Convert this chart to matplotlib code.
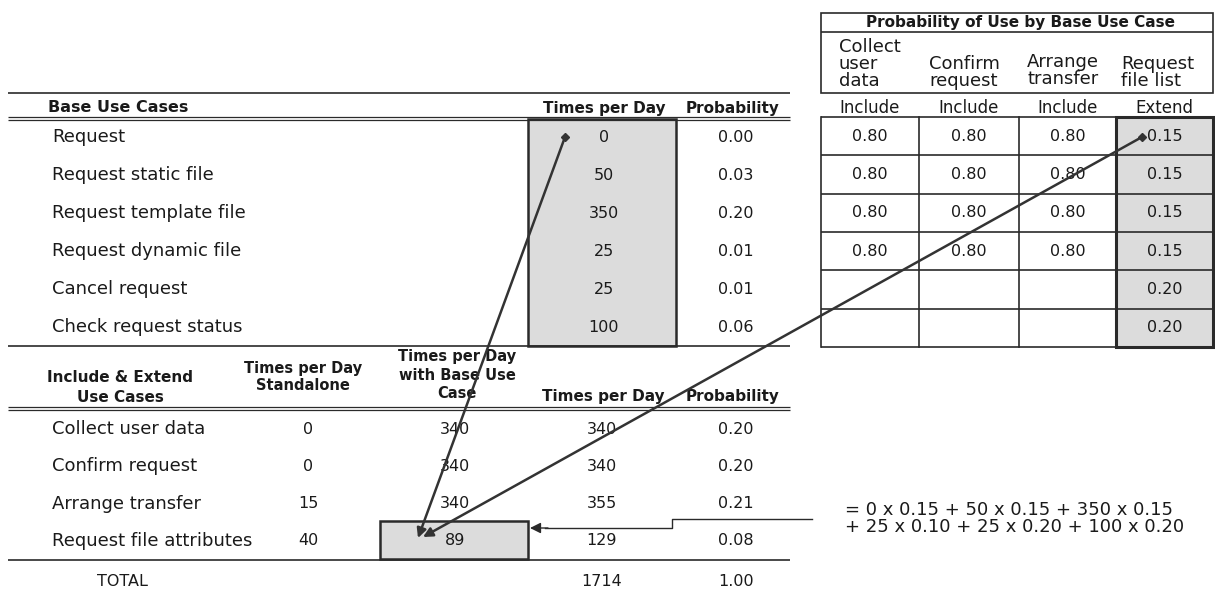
import matplotlib
matplotlib.use("Agg")
import matplotlib.pyplot as plt
from matplotlib.patches import Rectangle

# base use cases
base_cases = ["Request", "Request static file", "Request template file",
              "Request dynamic file", "Cancel request", "Check request status"]
base_times = [0, 50, 350, 25, 25, 100]
base_prob = [0.00, 0.03, 0.20, 0.01, 0.01, 0.06]

# probability of use by base use case
sub_cases = ["Collect\nuser\ndata", "Confirm\nrequest", "Arrange\ntransfer", "Request\nfile list"]
sub_kinds = ["Include", "Include", "Include", "Extend"]
use_prob = [[0.80, 0.80, 0.80, 0.15],
            [0.80, 0.80, 0.80, 0.15],
            [0.80, 0.80, 0.80, 0.15],
            [0.80, 0.80, 0.80, 0.15],
            [None, None, None, 0.20],
            [None, None, None, 0.20]]

# include & extend use cases
ext_cases = ["Collect user data", "Confirm request", "Arrange transfer", "Request file attributes"]
ext_standalone = [0, 0, 15, 40]
ext_with_base = [340, 340, 340, 89]
ext_times = [340, 340, 355, 129]
ext_prob = [0.20, 0.20, 0.21, 0.08]
total_times = 1714
total_prob = 1.00

formula = ["= 0 x 0.15 + 50 x 0.15 + 350 x 0.15",
           "+ 25 x 0.10 + 25 x 0.20 + 100 x 0.20"]

plt.rcParams['font.family'] = ['DejaVu Sans']
LC = '#2a2a2a'
TC = '#1a1a1a'
GRAY = '#dcdcdc'
FS_LBL = 13
FS_NUM = 11.5
FS_HDR = 11

fig = plt.figure(figsize=(12.15, 6.01), dpi=100)
ax = fig.add_axes([0, 0, 1, 1])
ax.set_xlim(0, 1215)
ax.set_ylim(601, 0)
ax.axis('off')


def hline(y, x0=8, x1=790, lw=1.2):
    ax.plot([x0, x1], [y, y], color=LC, lw=lw, solid_capstyle='butt')


def dline(y, x0=8, x1=790):
    hline(y - 1.5, x0, x1, lw=0.9)
    hline(y + 1.5, x0, x1, lw=0.9)


# ---- base use case table ----
hline(93)
ax.text(48, 108, "Base Use Cases", fontsize=FS_HDR + 0.5, fontweight='bold', va='center', color=TC)
ax.text(604, 108, "Times per Day", fontsize=FS_HDR, fontweight='bold', va='center', ha='center', color=TC)
ax.text(733, 108, "Probability", fontsize=FS_HDR, fontweight='bold', va='center', ha='center', color=TC)
dline(118)
ax.add_patch(Rectangle((528, 119), 148, 227, fc=GRAY, ec=LC, lw=1.8, zorder=0))

row_y = [137 + 38 * i for i in range(len(base_cases))]
for y, name, t, p in zip(row_y, base_cases, base_times, base_prob):
    ax.text(52, y, name, fontsize=FS_LBL, va='center', color=TC)
    ax.text(604, y, f"{t}", fontsize=FS_NUM, va='center', ha='center', color=TC)
    ax.text(736, y, f"{p:.2f}", fontsize=FS_NUM, va='center', ha='center', color=TC)
hline(346)

# ---- include & extend table ----
ax.text(120, 377, "Include & Extend", fontsize=FS_HDR, fontweight='bold', va='center', ha='center', color=TC)
ax.text(120, 397, "Use Cases", fontsize=FS_HDR, fontweight='bold', va='center', ha='center', color=TC)
ax.text(303, 368, "Times per Day", fontsize=FS_HDR - 0.5, fontweight='bold', va='center', ha='center', color=TC)
ax.text(303, 385, "Standalone", fontsize=FS_HDR - 0.5, fontweight='bold', va='center', ha='center', color=TC)
for y, s in zip([357, 375, 394], ["Times per Day", "with Base Use", "Case"]):
    ax.text(457, y, s, fontsize=FS_HDR - 0.5, fontweight='bold', va='center', ha='center', color=TC)
ax.text(603, 396, "Times per Day", fontsize=FS_HDR, fontweight='bold', va='center', ha='center', color=TC)
ax.text(733, 396, "Probability", fontsize=FS_HDR, fontweight='bold', va='center', ha='center', color=TC)
dline(408)

ax.add_patch(Rectangle((380, 521), 148, 38, fc=GRAY, ec=LC, lw=1.8, zorder=0))
ext_y = [429 + 37.3 * i for i in range(len(ext_cases))]
for y, name, s, w, t, p in zip(ext_y, ext_cases, ext_standalone, ext_with_base, ext_times, ext_prob):
    ax.text(52, y, name, fontsize=FS_LBL, va='center', color=TC)
    ax.text(308, y, f"{s}", fontsize=FS_NUM, va='center', ha='center', color=TC)
    ax.text(455, y, f"{w}", fontsize=FS_NUM, va='center', ha='center', color=TC)
    ax.text(602, y, f"{t}", fontsize=FS_NUM, va='center', ha='center', color=TC)
    ax.text(736, y, f"{p:.2f}", fontsize=FS_NUM, va='center', ha='center', color=TC)
hline(560)
ax.text(122, 582, "TOTAL", fontsize=FS_NUM, va='center', ha='center', color=TC)
ax.text(602, 582, f"{total_times}", fontsize=FS_NUM, va='center', ha='center', color=TC)
ax.text(736, 582, f"{total_prob:.2f}", fontsize=FS_NUM, va='center', ha='center', color=TC)

# ---- probability of use table ----
ax.add_patch(Rectangle((821, 13), 392, 80, fc='none', ec=LC, lw=1.2))
hline(32, 821, 1213)
ax.text(1020, 22, "Probability of Use by Base Use Case", fontsize=FS_HDR, fontweight='bold',
        va='center', ha='center', color=TC)
col_x = [821, 919, 1019, 1116, 1213]
head_x = [839, 929, 1027, 1121]
for hx, name in zip(head_x, sub_cases):
    lines = name.split("\n")
    bottom = 81 if name != "Arrange\ntransfer" else 79
    for k, s in enumerate(lines):
        ax.text(hx, bottom - 17 * (len(lines) - 1 - k), s, fontsize=FS_LBL, va='center', color=TC)

grid_y = [117 + 38.3 * i for i in range(len(use_prob) + 1)]
ax.add_patch(Rectangle((col_x[3], grid_y[0]), col_x[4] - col_x[3], grid_y[-1] - grid_y[0],
                       fc=GRAY, ec='none', zorder=0))
for gy in grid_y:
    hline(gy, col_x[0], col_x[4])
for gx in col_x:
    ax.plot([gx, gx], [grid_y[0], grid_y[-1]], color=LC, lw=1.2)
ax.add_patch(Rectangle((col_x[3], grid_y[0]), col_x[4] - col_x[3], grid_y[-1] - grid_y[0],
                       fc='none', ec=LC, lw=2.2))
for j, kind in enumerate(sub_kinds):
    cx = (col_x[j] + col_x[j + 1]) / 2
    ax.text(cx, 108, kind, fontsize=12, va='center', ha='center', color=TC)
    for i, row in enumerate(use_prob):
        if row[j] is not None:
            cy = (grid_y[i] + grid_y[i + 1]) / 2
            ax.text(cx, cy, f"{row[j]:.2f}", fontsize=FS_NUM, va='center', ha='center', color=TC)

# ---- formula ----
ax.text(845, 510, formula[0], fontsize=13, va='center', color=TC)
ax.text(845, 527, formula[1], fontsize=13, va='center', color=TC)

# ---- arrows ----
arrow_kw = dict(arrowstyle='-|>', color='#333333', lw=1.8, mutation_scale=14,
                shrinkA=0, shrinkB=0)
ax.annotate("", xy=(418, 538), xytext=(565, 137), arrowprops=arrow_kw)
ax.plot(565, 137, marker='D', ms=4, color='#333333')
ax.annotate("", xy=(423, 537), xytext=(1142, 137), arrowprops=arrow_kw)
ax.plot(1142, 137, marker='D', ms=4, color='#333333')

ax.plot([812, 672, 672, 545], [519, 519, 528, 528], color=LC, lw=1.0)
ax.annotate("", xy=(530, 528), xytext=(548, 528),
            arrowprops=dict(arrowstyle='-|>', color=LC, lw=1.0, mutation_scale=16,
                            shrinkA=0, shrinkB=0))

fig.savefig("out.png", dpi=100)
